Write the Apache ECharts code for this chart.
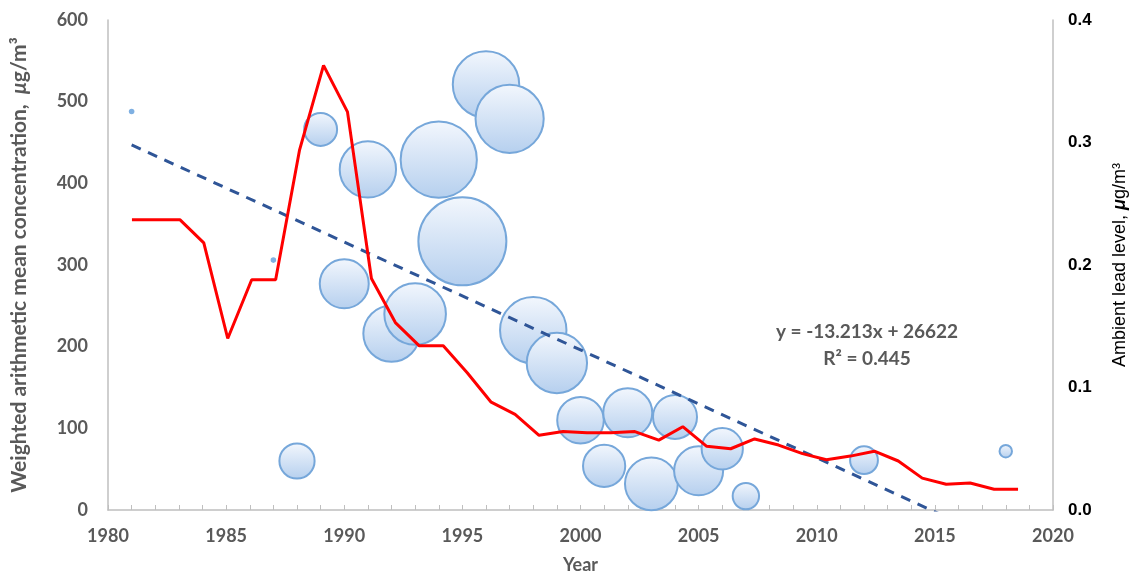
<!DOCTYPE html>
<html>
<head>
<meta charset="utf-8">
<script src="https://cdn.jsdelivr.net/npm/echarts@6/dist/echarts.min.js"></script>
<style>
  html, body { margin: 0; padding: 0; background: #fff; }
  #chart { width: 1131px; height: 579px; }
</style>
</head>
<body>
<div id="chart"></div>
<script>
// bubbles: year, weighted mean concentration, relative bubble size
var bubbleYears = [1981, 1987, 1988, 1989, 1990, 1991, 1992, 1993, 1994, 1995, 1996, 1997,
                   1998, 1999, 2000, 2001, 2002, 2003, 2004, 2005, 2006, 2007, 2012, 2018];
var bubbleConc = [488, 306, 60, 466, 277, 417, 216, 240, 429, 329, 521, 479,
                  220, 180, 110, 54, 119, 32, 114, 48, 75, 17, 61, 72];
var bubbleSize = [0.4, 0.4, 16, 14, 31, 41, 41, 49, 75, 100, 57, 60,
                  57, 47, 28, 23, 31, 36, 25, 31, 22, 9, 10, 2];

// ambient lead level (right axis)
var leadYears = [1981, 1982, 1983, 1984, 1985, 1986, 1987, 1988, 1989, 1990,
                 1991, 1992, 1993, 1994, 1995, 1996, 1997, 1998, 1999, 2000,
                 2001, 2002, 2003, 2004, 2005, 2006, 2007, 2008, 2009, 2010,
                 2011, 2012, 2013, 2014, 2015, 2016, 2017, 2018];
var leadLevel = [0.237, 0.237, 0.237, 0.218, 0.140, 0.188, 0.188, 0.294, 0.363, 0.325,
                 0.189, 0.153, 0.134, 0.134, 0.112, 0.088, 0.078, 0.061, 0.064, 0.063,
                 0.063, 0.064, 0.057, 0.068, 0.052, 0.050, 0.058, 0.053, 0.046, 0.041,
                 0.044, 0.048, 0.040, 0.026, 0.021, 0.022, 0.017, 0.017];

// linear trendline of the bubbles
var trendSlope = -13.213;
var trendIntercept = 26622;
var trendText = ['y = -13.213x + 26622', 'R² = 0.445'];

var yearMin = 1980, yearMax = 2020, yearLabelStep = 5;

var maxDiameter = 88;
var bubbleData = [];
for (var i = 0; i < bubbleYears.length; i++) {
    var item = {value: [bubbleYears[i], bubbleConc[i], bubbleSize[i]]};
    // very small bubbles come out as solid dots
    if (maxDiameter * Math.sqrt(bubbleSize[i] / 100) < 10) {
        item.itemStyle = {color: '#7fb0e2', borderWidth: 0};
    }
    bubbleData.push(item);
}
var leadData = [];
for (var j = 0; j < leadYears.length; j++) {
    leadData.push([leadYears[j], leadLevel[j]]);
}
var trendFrom = bubbleYears[0], trendTo = bubbleYears[bubbleYears.length - 1];
var trendData = [
    [trendFrom, trendSlope * trendFrom + trendIntercept],
    [trendTo, trendSlope * trendTo + trendIntercept]
];

var gray = '#595959';
var axisGray = '#bfbfbf';

var chart = echarts.init(document.getElementById('chart'), null, {renderer: 'canvas'});
chart.setOption({
    animation: false,
    grid: {left: 108, right: 78, top: 20, bottom: 69, outerBoundsMode: 'none', containLabel: false},
    xAxis: [{
        type: 'value',
        min: yearMin,
        max: yearMax,
        interval: 1,
        name: 'Year',
        nameLocation: 'middle',
        nameGap: 46,
        nameTextStyle: {color: gray, fontFamily: 'Lato', fontWeight: 'bold', fontSize: 18},
        axisLine: {lineStyle: {color: axisGray, width: 1.5}},
        axisTick: {show: true, inside: true, length: 5, lineStyle: {color: axisGray}},
        splitLine: {show: false},
        axisLabel: {
            margin: 17, color: gray, fontFamily: 'Lato', fontWeight: 'bold', fontSize: 18,
            formatter: function (v) { return v % yearLabelStep === 0 ? String(v) : ''; }
        }
    }, {
        // the line series sits on its own, slightly stretched, year scale
        type: 'value',
        min: 1980,
        max: 2019.46,
        show: false
    }],
    yAxis: [{
        type: 'value',
        min: 0,
        max: 600,
        interval: 100,
        name: 'Weighted arithmetic mean concentration,  {mu|μ}g/m³',
        nameLocation: 'middle',
        nameRotate: 90,
        nameGap: 78,
        nameTextStyle: {
            color: gray, fontFamily: 'Lato', fontWeight: 'bold', fontSize: 21,
            rich: {mu: {color: gray, fontFamily: 'Lato', fontWeight: 'bold', fontStyle: 'italic', fontSize: 21}}
        },
        axisLine: {show: true, lineStyle: {color: axisGray, width: 1.5}},
        axisTick: {show: false},
        splitLine: {show: false},
        axisLabel: {margin: 20, color: gray, fontFamily: 'Lato', fontWeight: 'bold', fontSize: 18}
    }, {
        type: 'value',
        position: 'right',
        min: 0,
        max: 0.4,
        interval: 0.1,
        name: 'Ambient lead level, {mu|μ}g/m³',
        nameLocation: 'middle',
        nameRotate: 90,
        nameGap: 58,
        nameTextStyle: {
            color: '#000', fontFamily: 'Liberation Sans', fontSize: 18,
            rich: {mu: {color: '#000', fontFamily: 'Liberation Sans', fontStyle: 'italic', fontWeight: 'bold', fontSize: 18}}
        },
        axisLine: {show: true, lineStyle: {color: axisGray, width: 1.5}},
        axisTick: {show: false},
        splitLine: {show: false},
        axisLabel: {
            margin: 15, color: '#000', fontFamily: 'Liberation Sans', fontWeight: 'bold', fontSize: 17,
            formatter: function (v) { return v.toFixed(1); }
        }
    }],
    series: [{
        type: 'scatter',
        xAxisIndex: 0,
        yAxisIndex: 0,
        data: bubbleData,
        symbolSize: function (d) { return maxDiameter * Math.sqrt(d[2] / 100); },
        itemStyle: {
            opacity: 1,
            color: new echarts.graphic.LinearGradient(0, 0, 0, 1, [
                {offset: 0, color: '#f3f7fd'},
                {offset: 1, color: '#b5cfee'}
            ]),
            borderColor: '#76a7da',
            borderWidth: 2
        },
        z: 2
    }, {
        type: 'line',
        xAxisIndex: 0,
        yAxisIndex: 0,
        data: trendData,
        showSymbol: false,
        lineStyle: {color: '#2f5597', width: 3, type: [10, 8]},
        z: 3
    }, {
        type: 'line',
        xAxisIndex: 1,
        yAxisIndex: 1,
        data: leadData,
        showSymbol: false,
        lineStyle: {color: '#ff0000', width: 3},
        z: 4
    }],
    graphic: [{
        type: 'text',
        x: 867,
        y: 318,
        style: {
            text: trendText.join('\n'),
            fill: gray,
            font: 'bold 19px Lato',
            lineHeight: 27,
            align: 'center',
            textAlign: 'center'
        }
    }]
});
</script>
</body>
</html>
